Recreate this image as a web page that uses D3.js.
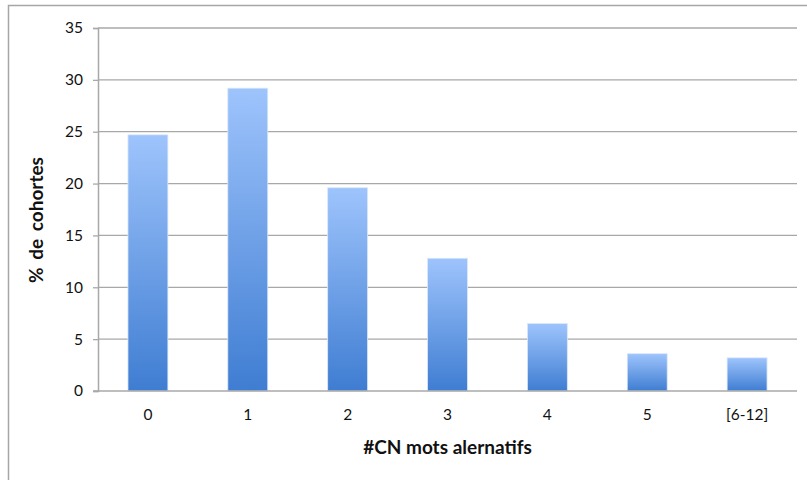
<!DOCTYPE html>
<html>
<head>
<meta charset="utf-8">
<script src="https://cdn.jsdelivr.net/npm/d3@7"></script>
<style>
  body { margin: 0; background: #fff; }
  text { font-family: Lato, "Open Sans", sans-serif; fill: #111; }
</style>
</head>
<body>
<div id="chart"></div>
<script>
// data
var categories = ["0", "1", "2", "3", "4", "5", "[6-12]"];
var cohortPct = [24.7, 29.2, 19.6, 12.8, 6.5, 3.6, 3.2];
var yTicks = [0, 5, 10, 15, 20, 25, 30, 35];

var svgWidth = 807, svgHeight = 480;
var margin = { top: 28, right: 10, bottom: 89, left: 98 };
var width = 797 - margin.left;
var height = 391 - margin.top;

var svg = d3.select("#chart").append("svg")
  .attr("width", svgWidth)
  .attr("height", svgHeight);

// outer frame (top, left, right; bottom is cut off)
svg.append("path")
  .attr("d", "M8.5," + svgHeight + " V5.5 H" + svgWidth)
  .attr("fill", "none")
  .attr("stroke", "#a6a6a6")
  .attr("stroke-width", 1.5);

// gradient for bars
var grad = svg.append("defs").append("linearGradient")
  .attr("id", "barGrad")
  .attr("x1", 0).attr("y1", 0).attr("x2", 0).attr("y2", 1);
grad.append("stop").attr("offset", "0%").attr("stop-color", "#9ec4fc");
grad.append("stop").attr("offset", "100%").attr("stop-color", "#3f7dd2");

var chartGroup = svg.append("g")
  .attr("transform", `translate(${margin.left}, ${margin.top})`);

var xScale = d3.scaleBand()
  .domain(categories)
  .range([0, width])
  .paddingInner(0.6)
  .paddingOuter(0.3);

var yScale = d3.scaleLinear()
  .domain([0, 35])
  .range([height, 0]);

// gridlines
chartGroup.append("g")
  .selectAll("line")
  .data(yTicks.filter(d => d > 0))
  .enter()
  .append("line")
  .attr("x1", 0)
  .attr("x2", width)
  .attr("y1", d => yScale(d))
  .attr("y2", d => yScale(d))
  .attr("stroke", "#a8a8a8")
  .attr("stroke-width", 1.3);

// y axis
var yAxis = d3.axisLeft(yScale).tickValues(yTicks).tickSize(5).tickPadding(10);
var yG = chartGroup.append("g").call(yAxis);
yG.select(".domain").attr("stroke", "#a8a8a8").attr("stroke-width", 1.5);
yG.selectAll(".tick line").attr("stroke", "#a8a8a8").attr("stroke-width", 1.3);
yG.selectAll(".tick text").style("font-size", "15.5px").attr("fill", "#111");

// bars
chartGroup.selectAll(".bar")
  .data(cohortPct)
  .enter()
  .append("rect")
  .attr("class", "bar")
  .attr("x", (d, i) => xScale(categories[i]))
  .attr("y", d => yScale(d))
  .attr("width", xScale.bandwidth())
  .attr("height", d => height - yScale(d))
  .attr("fill", "url(#barGrad)")
  .attr("stroke", "#dce8f8")
  .attr("stroke-width", 0.8);

// x axis
var xAxis = d3.axisBottom(xScale).tickSize(0).tickPadding(18);
var xG = chartGroup.append("g")
  .attr("transform", `translate(0, ${height})`)
  .call(xAxis);
xG.select(".domain").attr("stroke", "#a8a8a8").attr("stroke-width", 1.5)
  .attr("d", `M-5,0H${width}`);
xG.selectAll(".tick text").style("font-size", "15.5px").attr("fill", "#111");

// axis titles
svg.append("text")
  .attr("x", margin.left + width / 2)
  .attr("y", 454)
  .attr("text-anchor", "middle")
  .style("font-size", "19px")
  .style("font-weight", "bold")
  .text("#CN mots alernatifs");

svg.append("text")
  .attr("transform", "translate(43, 220) rotate(-90)")
  .attr("text-anchor", "middle")
  .style("font-size", "19px")
  .style("font-weight", "bold")
  .style("word-spacing", "3px")
  .text("% de cohortes");
</script>
</body>
</html>
